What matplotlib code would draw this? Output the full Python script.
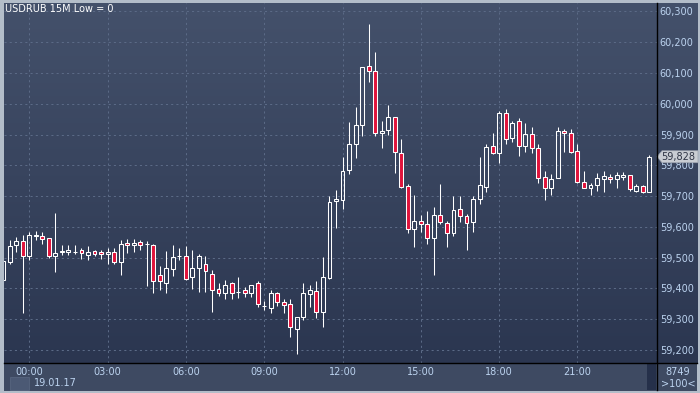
#!/usr/bin/env python3
"""
USDRUB 15M candlestick chart, terminal style
"""

import numpy as np
import matplotlib.pyplot as plt
from matplotlib.patches import Rectangle, Polygon
from matplotlib.lines import Line2D
from matplotlib.colors import LinearSegmentedColormap

W, H = 700, 393

title = 'USDRUB 15M Low = 0'
date_label = '19.01.17'
last_price = 59.828
volume_label = '8749'
zoom_label = '>100<'

# 15 minute candles, 23:00 (18.01) .. 23:45 (19.01)
opens = [59.426, 59.486, 59.540, 59.554, 59.505, 59.570, 59.570, 59.564, 59.505, 59.517,
         59.517, 59.519, 59.525, 59.510, 59.521, 59.518, 59.511, 59.518, 59.485, 59.547,
         59.541, 59.551, 59.545, 59.541, 59.443, 59.417, 59.463, 59.504, 59.504, 59.437,
         59.466, 59.479, 59.446, 59.398, 59.385, 59.417, 59.390, 59.394, 59.385, 59.417,
         59.343, 59.338, 59.385, 59.355, 59.349, 59.269, 59.307, 59.381, 59.392, 59.325,
         59.434, 59.683, 59.689, 59.784, 59.868, 59.930, 60.123, 60.107, 59.904, 59.914,
         59.957, 59.840, 59.733, 59.592, 59.619, 59.609, 59.564, 59.638, 59.612, 59.579,
         59.659, 59.635, 59.616, 59.691, 59.730, 59.863, 59.840, 59.970, 59.889, 59.944,
         59.862, 59.903, 59.856, 59.762, 59.725, 59.759, 59.912, 59.905, 59.847, 59.746,
         59.728, 59.736, 59.756, 59.762, 59.756, 59.763, 59.769, 59.718, 59.733, 59.712]
highs = [59.499, 59.556, 59.566, 59.575, 59.585, 59.586, 59.583, 59.564, 59.646, 59.542,
         59.542, 59.542, 59.533, 59.539, 59.526, 59.526, 59.532, 59.533, 59.557, 59.560,
         59.561, 59.557, 59.553, 59.544, 59.472, 59.522, 59.542, 59.531, 59.539, 59.526,
         59.512, 59.506, 59.460, 59.419, 59.428, 59.422, 59.438, 59.405, 59.411, 59.425,
         59.360, 59.395, 59.390, 59.367, 59.365, 59.307, 59.417, 59.411, 59.424, 59.502,
         59.701, 59.721, 59.828, 59.942, 59.988, 60.120, 60.258, 60.167, 59.945, 59.997,
         59.957, 59.887, 59.741, 59.704, 59.638, 59.652, 59.664, 59.740, 59.619, 59.700,
         59.700, 59.642, 59.700, 59.827, 59.869, 59.906, 59.978, 59.983, 59.944, 59.954,
         59.938, 59.926, 59.870, 59.782, 59.773, 59.926, 59.918, 59.918, 59.868, 59.782,
         59.743, 59.776, 59.782, 59.773, 59.779, 59.779, 59.769, 59.740, 59.736, 59.835]
lows = [59.418, 59.480, 59.517, 59.322, 59.493, 59.558, 59.546, 59.500, 59.452, 59.509,
        59.509, 59.513, 59.496, 59.491, 59.507, 59.496, 59.478, 59.479, 59.445, 59.515,
        59.517, 59.526, 59.408, 59.387, 59.395, 59.385, 59.439, 59.491, 59.428, 59.398,
        59.390, 59.390, 59.325, 59.376, 59.367, 59.367, 59.370, 59.374, 59.374, 59.341,
        59.330, 59.322, 59.343, 59.320, 59.241, 59.186, 59.298, 59.341, 59.305, 59.276,
        59.432, 59.595, 59.659, 59.771, 59.823, 59.894, 60.070, 59.894, 59.858, 59.900,
        59.774, 59.725, 59.579, 59.536, 59.582, 59.546, 59.445, 59.611, 59.536, 59.572,
        59.616, 59.526, 59.585, 59.676, 59.712, 59.837, 59.808, 59.869, 59.875, 59.832,
        59.843, 59.840, 59.743, 59.686, 59.704, 59.759, 59.845, 59.840, 59.743, 59.725,
        59.704, 59.718, 59.715, 59.743, 59.725, 59.753, 59.717, 59.712, 59.710, 59.712]
closes = [59.490, 59.539, 59.554, 59.505, 59.573, 59.575, 59.562, 59.504, 59.515, 59.522,
          59.526, 59.520, 59.515, 59.519, 59.513, 59.511, 59.519, 59.485, 59.544, 59.541,
          59.548, 59.541, 59.545, 59.424, 59.424, 59.468, 59.502, 59.504, 59.432, 59.468,
          59.504, 59.458, 59.394, 59.385, 59.411, 59.385, 59.390, 59.385, 59.411, 59.349,
          59.343, 59.385, 59.357, 59.346, 59.274, 59.307, 59.385, 59.394, 59.325, 59.437,
          59.681, 59.691, 59.782, 59.869, 59.931, 60.120, 60.107, 59.904, 59.912, 59.957,
          59.843, 59.731, 59.592, 59.619, 59.609, 59.563, 59.638, 59.616, 59.580, 59.655,
          59.635, 59.612, 59.691, 59.736, 59.860, 59.840, 59.970, 59.886, 59.938, 59.862,
          59.902, 59.855, 59.759, 59.725, 59.756, 59.912, 59.905, 59.844, 59.745, 59.728,
          59.736, 59.759, 59.765, 59.756, 59.769, 59.769, 59.723, 59.733, 59.712, 59.828]

hour_pos = [4, 16, 28, 40, 52, 64, 76, 88]
hour_labels = ['00:00', '03:00', '06:00', '09:00', '12:00', '15:00', '18:00', '21:00']
price_ticks = [59.2, 59.3, 59.4, 59.5, 59.6, 59.7, 59.8, 59.9, 60.0, 60.1, 60.2, 60.3]

LABEL = '#bcd3ef'
RED = '#e0143c'


def box(x0, y0, x1, y1):
    """pixel box (top-left origin) -> figure fraction rect"""
    return [x0 / W, 1 - y1 / H, (x1 - x0) / W, (y1 - y0) / H]


def fpt(x, y):
    return (x / W, 1 - y / H)


def main():
    fig = plt.figure(figsize=(W / 100, H / 100), dpi=100)
    fig.patch.set_facecolor('#b3bdc9')

    # gradient background behind plot + price scale
    bg = fig.add_axes(box(3.5, 2.5, 697, 363))
    cmap = LinearSegmentedColormap.from_list('bg', ['#44516b', '#2b3650'])
    grad = np.linspace(0, 1, 256).reshape(-1, 1)
    bg.imshow(grad, cmap=cmap, aspect='auto', extent=(0, 1, 0, 1))
    bg.set_axis_off()

    # bottom time panel
    bot = fig.add_axes(box(3.5, 363, 697, 390.5))
    bot.set_facecolor('#3e4a62')
    bot.set_xticks([])
    bot.set_yticks([])
    for s in bot.spines.values():
        s.set_visible(False)

    ax = fig.add_axes(box(3.5, 2.5, 657, 363))
    ax.patch.set_alpha(0)
    for s in ax.spines.values():
        s.set_visible(False)

    x = np.arange(len(opens))
    o = np.array(opens)
    c = np.array(closes)
    hi = np.array(highs)
    lo = np.array(lows)
    top = np.maximum(o, c)
    btm = np.minimum(o, c)
    up = c >= o

    lw = 0.75
    ax.vlines(x, top, hi, color='white', lw=lw)
    ax.vlines(x, lo, btm, color='white', lw=lw)
    ax.bar(x[up], (top - btm)[up], bottom=btm[up], width=0.6,
           facecolor='none', edgecolor='white', linewidth=lw)
    ax.bar(x[~up], (top - btm)[~up], bottom=btm[~up], width=0.6,
           facecolor=RED, edgecolor='white', linewidth=lw)

    ax.set_xlim(0.05, 100.19)
    ax.set_ylim(59.158, 60.329)

    ax.yaxis.tick_right()
    ax.set_yticks(price_ticks)
    ax.set_yticklabels([('%.3f' % v).replace('.', ',') for v in price_ticks])
    ax.set_xticks(hour_pos)
    ax.set_xticklabels(hour_labels)
    ax.tick_params(axis='both', length=0, labelsize=7, labelcolor=LABEL)
    ax.tick_params(axis='y', pad=2)
    ax.tick_params(axis='x', pad=3)
    ax.grid(True, color='#5b6a86', linestyle=(0, (2, 3)), linewidth=0.75)
    ax.set_axisbelow(True)

    # separator lines
    fig.add_artist(Line2D([657 / W, 657 / W], [1 - 2.5 / H, 1 - 390 / H],
                          transform=fig.transFigure, color='black', lw=1))
    fig.add_artist(Line2D([3.5 / W, 697 / W], [1 - 363 / H, 1 - 363 / H],
                          transform=fig.transFigure, color='black', lw=1))

    # texts
    fig.text(*fpt(5, 9), title, color='white', fontsize=7, ha='left', va='center')
    fig.text(*fpt(34, 383.5), date_label, color=LABEL, fontsize=7, ha='left', va='center')
    fig.text(*fpt(678, 372), volume_label, color=LABEL, fontsize=7, ha='center', va='center')
    fig.text(*fpt(678, 384), zoom_label, color=LABEL, fontsize=7, ha='center', va='center')

    # small square & scroll bar in the time panel
    fig.add_artist(Rectangle(fpt(10, 390), 19 / W, 13 / H, transform=fig.transFigure,
                             facecolor='#4b5974', edgecolor='#5a6883', lw=0.5))
    fig.add_artist(Rectangle(fpt(647, 390), 9 / W, 26 / H, transform=fig.transFigure,
                             facecolor='#25304a', edgecolor='none'))

    # last price tag
    yp = 1 - (ax.transData.transform((0, last_price))[1] / fig.bbox.height)
    ypx = yp * H
    tag = Polygon([fpt(657, ypx), fpt(662, ypx - 6), fpt(698, ypx - 6),
                   fpt(698, ypx + 6), fpt(662, ypx + 6)], closed=True,
                  transform=fig.transFigure, facecolor='#c9cdd3', edgecolor='#9aa2ae', lw=0.5)
    fig.add_artist(tag)
    fig.text(*fpt(661, ypx), ('%.3f' % last_price).replace('.', ','), color='#2e3444',
             fontsize=7, ha='left', va='center')

    fig.savefig('out.png', dpi=100)


if __name__ == "__main__":
    main()
